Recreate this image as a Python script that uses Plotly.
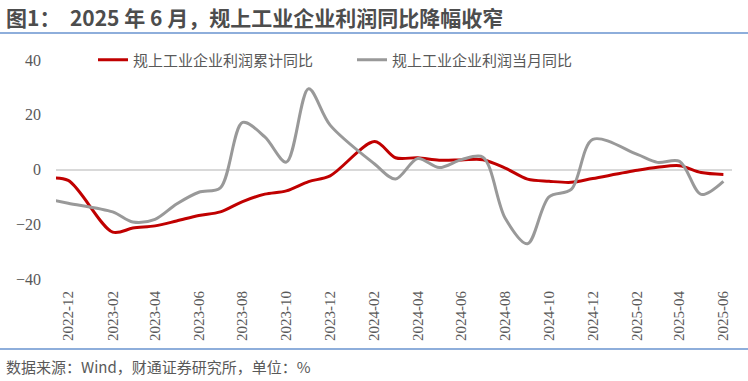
import plotly.graph_objects as go

# ---- data ----
months = ["2022-11", "2022-12", "2023-02", "2023-03", "2023-04", "2023-05", "2023-06",
          "2023-07", "2023-08", "2023-09", "2023-10", "2023-11", "2023-12", "2024-02",
          "2024-03", "2024-04", "2024-05", "2024-06", "2024-07", "2024-08", "2024-09",
          "2024-10", "2024-11", "2024-12", "2025-02", "2025-03", "2025-04", "2025-05",
          "2025-06"]
cumulative_yoy = [-3.2, -4.0, -22.9, -21.4, -20.6, -18.8, -16.8, -15.5, -11.7, -9.0, -7.8,
                  -4.4, -2.3, 10.2, 4.3, 4.3, 3.4, 3.5, 3.6, 0.5, -3.5, -4.3, -4.7, -3.3,
                  -0.3, 0.8, 1.4, -1.1, -1.8]
monthly_yoy = [-10.7, -12.3, -15.5, -19.2, -18.2, -12.6, -8.3, -6.7, 17.2, 11.9, 2.7,
               29.5, 16.2, 2.0, -3.5, 4.0, 0.7, 3.6, 4.5, -17.8, -27.1, -10.0, -7.3, 11.0,
               5.5, 2.6, 3.0, -9.1, -4.3]
series_names = ["规上工业企业利润累计同比", "规上工业企业利润当月同比"]
title_text = "<b>图1：  2025 年 6 月，规上工业企业利润同比降幅收窄</b>"
source_text = "数据来源：Wind，财通证券研究所，单位：%"
y_ticks = [-40, -20, 0, 20, 40]

dates = [m + "-01" for m in months]

# ---- layout geometry (pixels) ----
W, H = 748, 381
L, R, T, B = 56, 16, 60, 102
PW, PH = W - L - R, H - T - B

def px_x(x):
    return (x - L) / PW

def px_y(y):
    return (H - B - y) / PH

CJK = "Noto Sans CJK SC"
SERIF = "Liberation Serif"

fig = go.Figure()
fig.add_trace(go.Scatter(x=dates, y=cumulative_yoy, name=series_names[0], mode="lines",
                         line=dict(color="#C00000", width=3, shape="spline", smoothing=0.9)))
fig.add_trace(go.Scatter(x=dates, y=monthly_yoy, name=series_names[1], mode="lines",
                         line=dict(color="#999999", width=3, shape="spline", smoothing=0.9)))

fig.update_layout(
    width=W, height=H,
    margin=dict(l=L, r=R, t=T, b=B, pad=0),
    paper_bgcolor="white", plot_bgcolor="white",
    showlegend=True,
    legend=dict(orientation="h", x=px_x(93), xanchor="left", y=1.0, yanchor="middle",
                font=dict(family=CJK, size=15, color="#595959"),
                itemwidth=30, entrywidth=214, bgcolor="rgba(0,0,0,0)",
                tracegroupgap=0),
    xaxis=dict(type="date", range=["2022-11-14", "2025-06-13"],
               tick0="2022-12-01", dtick="M2", tickformat="%Y-%m",
               tickangle=-90, showgrid=False, zeroline=False, showline=False,
               ticks="", ticklabelstandoff=8,
               tickfont=dict(family=SERIF, size=15, color="#595959")),
    yaxis=dict(range=[-40, 40], tickvals=y_ticks, showgrid=False,
               zeroline=True, zerolinecolor="#d9d9d9", zerolinewidth=1.5,
               showline=False, ticks="", ticklabelstandoff=14,
               tickfont=dict(family=SERIF, size=16, color="#595959")),
)

fig.add_annotation(text=title_text, xref="paper", yref="paper",
                   x=px_x(4), y=px_y(17), xanchor="left", yanchor="middle",
                   showarrow=False, font=dict(family=CJK, size=21, color="#4d4d4d"))
fig.add_annotation(text=source_text, xref="paper", yref="paper",
                   x=px_x(4), y=px_y(366), xanchor="left", yanchor="middle",
                   showarrow=False, font=dict(family=CJK, size=15, color="#595959"))

for yy in (33, 349):
    fig.add_shape(type="line", xref="paper", yref="paper",
                  x0=px_x(0), x1=px_x(W), y0=px_y(yy), y1=px_y(yy),
                  line=dict(color="#8eaedb", width=2))

fig.write_html("out.html", config={"displayModeBar": False},
               post_script="document.body.style.margin='0';document.body.style.overflow='hidden';")
